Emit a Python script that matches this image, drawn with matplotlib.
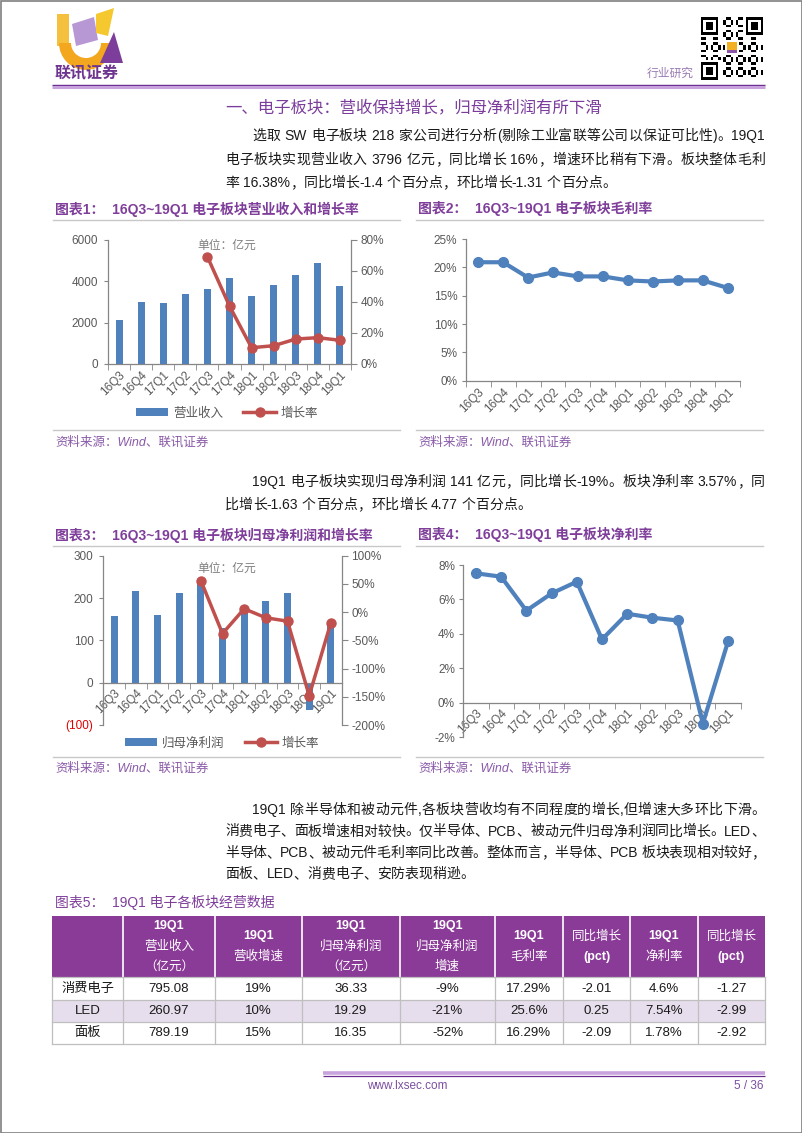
import matplotlib
matplotlib.use('Agg')
import matplotlib.pyplot as plt
import numpy as np
import re
from matplotlib.patches import Rectangle, Polygon, Wedge, Patch
from matplotlib.lines import Line2D
from matplotlib.ticker import FuncFormatter, FixedLocator

W, H = 802, 1133
plt.rcParams['font.family'] = ['Liberation Sans', 'Noto Sans CJK SC']

# ---------------- data ----------------
quarters = ['16Q3', '16Q4', '17Q1', '17Q2', '17Q3', '17Q4', '18Q1', '18Q2', '18Q3', '18Q4', '19Q1']
revenue = [2150, 2980, 2930, 3380, 3650, 4150, 3280, 3800, 4300, 4900, 3796]
revenue_growth = [np.nan, np.nan, np.nan, np.nan, 69.2, 37.4, 10.5, 11.8, 16.1, 17.0, 15.3]
gross_margin = [20.9, 20.9, 18.2, 19.1, 18.4, 18.4, 17.7, 17.5, 17.7, 17.7, 16.38]
net_profit = [158, 216, 161, 212, 244, 130, 172, 193, 212, -64, 141]
profit_growth = [np.nan, np.nan, np.nan, np.nan, 56, -38, 6, -10, -16, -148, -19]
net_margin = [7.52, 7.32, 5.35, 6.35, 7.03, 3.68, 5.17, 4.94, 4.78, -1.2, 3.57]

sectors = ['消费电子', 'LED', '面板']
t_revenue = [795.08, 260.97, 789.19]
t_rev_growth = [19, 10, 15]
t_profit = [36.33, 19.29, 16.35]
t_profit_growth = [-9, -21, -52]
t_gross = [17.29, 25.6, 16.29]
t_gross_chg = [-2.01, 0.25, -2.09]
t_net = [4.6, 7.54, 1.78]
t_net_chg = [-1.27, -2.99, -2.92]

BLUE = '#4F81BD'
RED = '#C0504D'
PURPLE = '#7E3E9A'
SRC = '#8A5AA8'
GRAY = '#595959'
SPINE = '#868686'
TICK = 8.5

fig = plt.figure(figsize=(W / 100, H / 100), dpi=100)
fig.patch.set_facecolor('white')
ov = fig.add_axes([0, 0, 1, 1])
ov.set_xlim(0, W)
ov.set_ylim(H, 0)
ov.axis('off')
R = fig.canvas.get_renderer()


def rect(l, t, r, b):
    return [l / W, 1 - b / H, (r - l) / W, (b - t) / H]


def tokenize(s):
    return re.findall(r'[A-Za-z0-9.%~\-]+| |.', s)


def text_line(s, x0, y, x1=None, size=10, color='#1A1A1A'):
    items = []
    for tk in tokenize(s):
        if tk == ' ':
            items.append((None, size * 100 / 72 * 0.28))
        else:
            t = ov.text(0, y, tk, fontsize=size, color=color, va='center', ha='left')
            items.append((t, t.get_window_extent(R).width))
    total = sum(w for _, w in items)
    gap = 0.0
    if x1 is not None and len(items) > 1:
        gap = (x1 - x0 - total) / (len(items) - 1)
    x = x0
    for t, w in items:
        if t is not None:
            t.set_x(x)
        x += w + gap


# ---------------- page frame / header ----------------
ov.add_patch(Rectangle((0.5, 0.5), W - 1, H - 1, fill=False, ec='#7F7F7F', lw=1.2))

# logo
ov.add_patch(Rectangle((57, 14), 12, 32, color='#F4C03E', lw=0))
ov.add_patch(Wedge((86, 43), 27, 0, 180, width=12, color='#F2A71E', lw=0))
ov.add_patch(Polygon([(72, 24), (94, 17), (98, 40), (76, 46)], closed=True, color='#B898D4', lw=0))
ov.add_patch(Polygon([(96, 14), (114, 8), (108, 36), (96, 33)], closed=True, color='#F5C830', lw=0))
ov.add_patch(Polygon([(114, 32), (100, 63), (123, 63)], closed=True, color='#7D3D9B', lw=0))
ov.text(87, 73, '联讯证券', fontsize=11.5, color='#6E3590', fontweight='bold',
        ha='center', va='center', family=['Noto Sans CJK SC'])

# QR-like code (decorative)
n = 25
qr = np.zeros((n, n))
for i in range(n):
    for j in range(n):
        qr[i, j] = 1 if ((i * 7 + j * 11 + i * j) % 5) < 2 else 0


def finder(r0, c0):
    qr[r0:r0 + 7, c0:c0 + 7] = 1
    qr[r0 + 1:r0 + 6, c0 + 1:c0 + 6] = 0
    qr[r0 + 2:r0 + 5, c0 + 2:c0 + 5] = 1


for r0, c0 in [(0, 0), (0, n - 7), (n - 7, 0)]:
    qr[max(r0 - 1, 0):r0 + 8, max(c0 - 1, 0):c0 + 8] = 0
    finder(r0, c0)
ov.imshow(1 - qr, cmap='gray', extent=(701, 763, 80, 17), interpolation='nearest',
          aspect='auto', vmin=0, vmax=1)
ov.add_patch(Rectangle((725, 41), 14, 13, color='white', lw=0))
ov.add_patch(Rectangle((727, 42), 10, 8, color='#F2B124', lw=0))
ov.add_patch(Rectangle((727, 50), 10, 3, color='#8B55A8', lw=0))

ov.text(694, 73, '行业研究', fontsize=8.5, color='#9A7BB3', ha='right', va='center',
        family=['Noto Sans CJK SC'])
ov.plot([52, 765], [84.5, 84.5], color='#6B2C91', lw=1.0, solid_capstyle='butt')
ov.plot([52, 765], [86.8, 86.8], color='#C8A2DC', lw=2.2, solid_capstyle='butt')

# heading + paragraphs
ov.text(225, 108, '一、电子板块：营收保持增长，归母净利润有所下滑', fontsize=11.8, color='#7B3C9C',
        ha='left', va='center', family=['Noto Sans CJK SC'])

text_line('选取 SW 电子板块 218 家公司进行分析(剔除工业富联等公司以保证可比性)。19Q1', 252, 136, 765)
text_line('电子板块实现营业收入 3796 亿元，同比增长 16%，增速环比稍有下滑。板块整体毛利', 225, 160, 765)
text_line('率 16.38%，同比增长-1.4 个百分点，环比增长-1.31 个百分点。', 225, 183)

text_line('19Q1 电子板块实现归母净利润 141 亿元，同比增长-19%。板块净利率 3.57%，同', 252, 482, 765)
text_line('比增长-1.63 个百分点，环比增长 4.77 个百分点。', 225, 505)

text_line('19Q1 除半导体和被动元件,各板块营收均有不同程度的增长,但增速大多环比下滑。', 252, 810, 765)
text_line('消费电子、面板增速相对较快。仅半导体、PCB、被动元件归母净利润同比增长。LED、', 225, 831.5, 765)
text_line('半导体、PCB、被动元件毛利率同比改善。整体而言，半导体、PCB 板块表现相对较好，', 225, 853, 765)
text_line('面板、LED、消费电子、安防表现稍逊。', 225, 874)

# chart titles, separators, sources
for (x0, x1, ty, ly1, ly2, sy, title) in [
    (55, 400, 209, 220, 430, 442, '图表1：  16Q3~19Q1 电子板块营业收入和增长率'),
    (418, 763, 209, 220, 430, 442, '图表2：  16Q3~19Q1 电子板块毛利率'),
    (55, 400, 535, 546, 757, 768, '图表3：  16Q3~19Q1 电子板块归母净利润和增长率'),
    (418, 763, 535, 546, 757, 768, '图表4：  16Q3~19Q1 电子板块净利率'),
]:
    ov.text(x0, ty, title, fontsize=10, color=PURPLE, fontweight='bold', ha='left', va='center')
    ov.plot([x0 - 2, x1], [ly1, ly1], color='#C8C8C8', lw=1)
    ov.plot([x0 - 2, x1], [ly2, ly2], color='#C8C8C8', lw=1)
    ov.text(x0, sy, '资料来源：Wind、联讯证券', fontsize=9, color=SRC, style='italic',
            ha='left', va='center')

x = np.arange(len(quarters))
pct = FuncFormatter(lambda v, p: f'{v:.0f}%')


def style_x(ax, pad=2):
    ax.set_xlim(-0.5, len(quarters) - 0.5)
    ax.xaxis.set_major_locator(FixedLocator(x))
    ax.xaxis.set_minor_locator(FixedLocator(np.arange(-0.5, len(quarters), 1)))
    ax.set_xticklabels(quarters, rotation=45, ha='right', rotation_mode='anchor')
    ax.tick_params(axis='x', which='major', length=0, pad=pad, labelsize=TICK, labelcolor=GRAY)
    ax.tick_params(axis='x', which='minor', length=4, color=SPINE, direction='out')


def style_common(ax):
    for s in ax.spines.values():
        s.set_color(SPINE)
        s.set_linewidth(0.9)
    ax.spines['top'].set_visible(False)
    ax.patch.set_alpha(0)


# ---------------- chart 1 ----------------
ax1 = fig.add_axes(rect(108, 240, 351, 364))
ax1.bar(x, revenue, width=0.32, color=BLUE, zorder=2)
ax1.set_ylim(0, 6000)
ax1.set_yticks([0, 2000, 4000, 6000])
style_common(ax1)
ax1.spines['right'].set_visible(False)
style_x(ax1, pad=4)
ax1.tick_params(axis='y', length=3, color=SPINE, labelsize=TICK, labelcolor=GRAY, pad=4)
ax1b = ax1.twinx()
style_common(ax1b)
ax1b.spines['left'].set_visible(False)
ax1b.spines['bottom'].set_visible(False)
ax1b.plot(x, revenue_growth, color=RED, lw=2.5, marker='o', ms=6.5, zorder=3)
ax1b.set_ylim(0, 80)
ax1b.set_yticks([0, 20, 40, 60, 80])
ax1b.yaxis.set_major_formatter(pct)
ax1b.tick_params(axis='y', length=4, color=SPINE, labelsize=TICK, labelcolor=GRAY, pad=3)
ov.text(227, 245, '单位：亿元', fontsize=8.5, color='#7F7F7F', ha='center', va='center',
        family=['Noto Sans CJK SC'])
fig.legend([Patch(facecolor=BLUE), Line2D([0], [0], color=RED, lw=2.5, marker='o', ms=6.5)],
           ['营业收入', '增长率'], loc='center', bbox_to_anchor=(227 / W, 1 - 413 / H), ncol=2,
           frameon=False, handlelength=2.6, handleheight=0.55, columnspacing=1.6,
           handletextpad=0.4, labelcolor=GRAY, prop={'family': ['Noto Sans CJK SC'], 'size': 9})

# ---------------- chart 2 ----------------
ax2 = fig.add_axes(rect(465.7, 239, 740, 380.7))
ax2.plot(x, gross_margin, color=BLUE, lw=3, marker='o', ms=7)
ax2.set_ylim(0, 25)
ax2.set_yticks([0, 5, 10, 15, 20, 25])
ax2.yaxis.set_major_formatter(pct)
style_common(ax2)
ax2.spines['right'].set_visible(False)
style_x(ax2, pad=4)
ax2.tick_params(axis='y', length=3, color=SPINE, labelsize=TICK, labelcolor=GRAY, pad=3)

# ---------------- chart 3 ----------------
ax3 = fig.add_axes(rect(103.3, 555.7, 341.7, 725))
ax3.bar(x, net_profit, width=0.32, color=BLUE, zorder=2)
ax3.set_ylim(-100, 300)
ax3.set_yticks([-100, 0, 100, 200, 300])
ax3.set_yticklabels(['(100)', '0', '100', '200', '300'])
ax3.get_yticklabels()[0].set_color('#E00000')
style_common(ax3)
ax3.spines['right'].set_visible(False)
ax3.spines['bottom'].set_position(('data', 0))
style_x(ax3, pad=3)
ax3.tick_params(axis='y', length=3, color=SPINE, labelsize=TICK, pad=4)
for lab in ax3.get_yticklabels()[1:]:
    lab.set_color(GRAY)
ax3b = ax3.twinx()
style_common(ax3b)
ax3b.spines['left'].set_visible(False)
ax3b.spines['bottom'].set_visible(False)
ax3b.plot(x, profit_growth, color=RED, lw=2.5, marker='o', ms=6.5, zorder=3)
ax3b.set_ylim(-200, 100)
ax3b.set_yticks([-200, -150, -100, -50, 0, 50, 100])
ax3b.yaxis.set_major_formatter(pct)
ax3b.tick_params(axis='y', length=4, color=SPINE, labelsize=TICK, labelcolor=GRAY, pad=3)
ov.text(227, 568, '单位：亿元', fontsize=8.5, color='#7F7F7F', ha='center', va='center',
        family=['Noto Sans CJK SC'])
fig.legend([Patch(facecolor=BLUE), Line2D([0], [0], color=RED, lw=2.5, marker='o', ms=6.5)],
           ['归母净利润', '增长率'], loc='center', bbox_to_anchor=(222 / W, 1 - 743 / H), ncol=2,
           frameon=False, handlelength=2.6, handleheight=0.55, columnspacing=1.6,
           handletextpad=0.4, labelcolor=GRAY, prop={'family': ['Noto Sans CJK SC'], 'size': 9})

# ---------------- chart 4 ----------------
ax4 = fig.add_axes(rect(463.3, 565, 740.7, 737.3))
ax4.plot(x, net_margin, color=BLUE, lw=3, marker='o', ms=7, zorder=3)
ax4.set_ylim(-2, 8)
ax4.set_yticks([-2, 0, 2, 4, 6, 8])
ax4.yaxis.set_major_formatter(pct)
style_common(ax4)
ax4.spines['right'].set_visible(False)
ax4.spines['bottom'].set_position(('data', 0))
style_x(ax4, pad=3)
ax4.tick_params(axis='y', length=3, color=SPINE, labelsize=TICK, labelcolor=GRAY, pad=3)

# ---------------- table ----------------
ov.text(55, 903, '图表5：  19Q1 电子各板块经营数据', fontsize=10, color=PURPLE,
        ha='left', va='center')
cols = [52, 123, 215, 302, 400, 495, 563, 630, 698, 765]
htop, hbot = 916, 977
rows = [977, 1000, 1022, 1044]
HDR = '#8A3A97'
ov.add_patch(Rectangle((cols[0], htop), cols[-1] - cols[0], hbot - htop, color=HDR, lw=0))
ov.add_patch(Rectangle((cols[0], rows[1]), cols[-1] - cols[0], rows[2] - rows[1], color='#E6DEEC', lw=0))
for c in cols[1:-1]:
    ov.plot([c, c], [htop, hbot], color='white', lw=1.2)
for c in cols:
    ov.plot([c, c], [hbot, rows[-1]], color='#BFBFBF', lw=0.9)
for r in rows:
    ov.plot([cols[0], cols[-1]], [r, r], color='#BFBFBF', lw=0.9)

headers = [
    [],
    ['19Q1', '营业收入', '（亿元）'],
    ['19Q1', '营收增速'],
    ['19Q1', '归母净利润', '（亿元）'],
    ['19Q1', '归母净利润', '增速'],
    ['19Q1', '毛利率'],
    ['同比增长', '(pct)'],
    ['19Q1', '净利率'],
    ['同比增长', '(pct)'],
]
hc = (htop + hbot) / 2
for k, lines in enumerate(headers):
    cx = (cols[k] + cols[k + 1]) / 2
    nl = len(lines)
    for m, s in enumerate(lines):
        yy = hc + (m - (nl - 1) / 2) * 20.5
        bold = bool(re.match(r'^[0-9A-Za-z()]+$', s))
        ov.text(cx, yy, s, fontsize=9, color='white', ha='center', va='center',
                fontweight='bold' if bold else 'normal')

for i in range(len(sectors)):
    cells = [sectors[i], f'{t_revenue[i]:.2f}', f'{t_rev_growth[i]}%', f'{t_profit[i]:.2f}',
             f'{t_profit_growth[i]}%', f'{t_gross[i]}%', f'{t_gross_chg[i]:.2f}',
             f'{t_net[i]}%', f'{t_net_chg[i]:.2f}']
    yy = (rows[i] + rows[i + 1]) / 2
    for k, s in enumerate(cells):
        cx = (cols[k] + cols[k + 1]) / 2
        ov.text(cx, yy, s, fontsize=9.5, color='#1A1A1A', ha='center', va='center')

# ---------------- footer ----------------
ov.plot([323, 765], [1073, 1073], color='#C8A2DC', lw=2.6, solid_capstyle='butt')
ov.plot([323, 765], [1075.8, 1075.8], color='#6B2C91', lw=0.9, solid_capstyle='butt')
ov.text(367, 1086, 'www.lxsec.com', fontsize=8.5, color='#7B4F9F', ha='left', va='center')
ov.text(763, 1086, '5 / 36', fontsize=8.5, color='#7B4F9F', ha='right', va='center')

ov.set_xlim(0, W)
ov.set_ylim(H, 0)
fig.savefig('out.png', dpi=100, facecolor='white')
